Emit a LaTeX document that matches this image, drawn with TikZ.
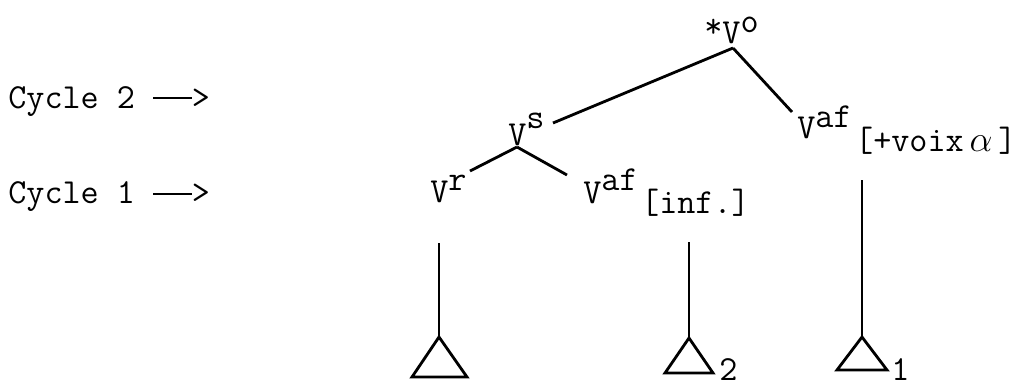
\documentclass[tikz,border=0pt]{standalone}
\usetikzlibrary{positioning}

\begin{document}
\begin{tikzpicture}[
  x=0.02cm, y=-0.02cm,
  font=\fontsize{20}{24}\selectfont\ttfamily,
  lbl/.style={anchor=base west, inner sep=0pt},
  branch/.style={draw=black, line width=1.6pt},
  tri/.style={draw=black, line width=1.6pt, line join=miter},
]
\useasboundingbox (0,0) rectangle (1025,387);

% ---------- cycle markers ----------
\node[lbl] (cyc2) at (8,108) {Cycle 2 \rule[5pt]{22pt}{1.2pt}>};
\node[lbl] (cyc1) at (8,203) {Cycle 1 \rule[4.6pt]{22pt}{1.2pt}>};

% ---------- tree labels ----------
\node[lbl] (vo) at (704,43) {\raisebox{3pt}{*}V\raisebox{5.7pt}{o}};
\node[lbl] (vs) at (508,145) {V\raisebox{9.5pt}{s}};
\node[lbl] (vr) at (430,202) {V\raisebox{6.8pt}{r}};
\node[lbl] (vinf) at (583,203) {V\raisebox{7.4pt}{af}\kern2pt\raisebox{-5.7pt}{[inf.]}};
\node[lbl] (vvoix) at (797,138) {V\raisebox{6.2pt}{af}\kern2pt\raisebox{-7.9pt}{[+voix\,$\alpha$\,]}};

% ---------- joints ----------
\coordinate (vo-foot) at (733,48);
\coordinate (vs-arm) at (553,123);
\coordinate (vvoix-arm) at (792,112);
\coordinate (vs-foot) at (517,147);
\coordinate (vr-arm) at (470,171);
\coordinate (vinf-arm) at (567,175);

% ---------- branches ----------
\draw[branch] (vo-foot) -- (vs-arm);
\draw[branch] (vo-foot) -- (vvoix-arm);
\draw[branch] (vs-foot) -- (vr-arm);
\draw[branch] (vs-foot) -- (vinf-arm);

% ---------- stems and triangles ----------
\coordinate (stem-r) at (439,243);
\coordinate (stem-inf) at (689,242);
\coordinate (stem-voix) at (862,180);
\coordinate (tri-r) at (439,337);
\coordinate (tri-inf) at (689,338);
\coordinate (tri-voix) at (862,337);

\draw[branch] (stem-r) -- (tri-r);
\draw[branch] (stem-inf) -- (tri-inf);
\draw[branch] (stem-voix) -- (tri-voix);

\draw[tri] (tri-r) -- ++(-27,40) -- ++(55,0) -- cycle;
\draw[tri] (tri-inf) -- ++(-24,35) -- ++(48,0) -- cycle;
\draw[tri] (tri-voix) -- ++(-25,33) -- ++(50,0) -- cycle;

% ---------- indices ----------
\node[lbl] (idx2) at (719,380) {2};
\node[lbl] (idx1) at (891,380) {1};

\end{tikzpicture}
\end{document}
